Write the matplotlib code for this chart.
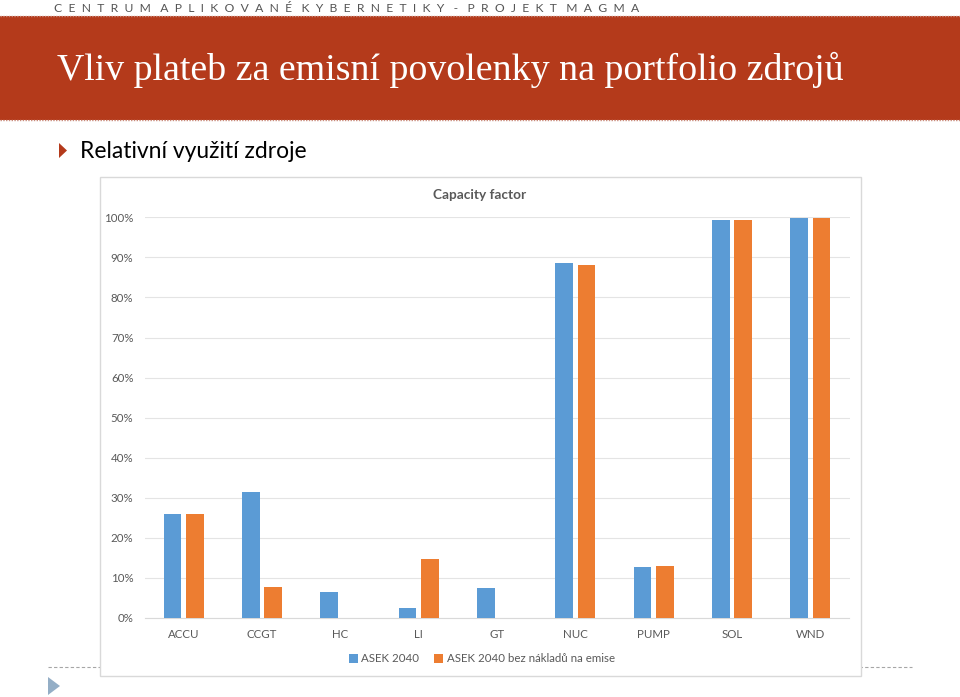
import numpy as np
import matplotlib
matplotlib.use("Agg")
from matplotlib import pyplot as plt
from matplotlib.patches import Rectangle, Polygon
from matplotlib.lines import Line2D
from matplotlib.ticker import PercentFormatter

# data
categories = ["ACCU", "CCGT", "HC", "LI", "GT", "NUC", "PUMP", "SOL", "WND"]
asek_2040 = [0.260, 0.315, 0.065, 0.025, 0.074, 0.886, 0.127, 0.993, 0.999]
asek_2040_bez = [0.260, 0.078, 0.0, 0.147, 0.0, 0.881, 0.129, 0.993, 0.999]
series_names = ["ASEK 2040", "ASEK 2040 bez nákladů na emise"]
yticks = np.arange(0, 1.01, 0.1)

W, H = 960, 697
BLUE = "#5B9BD5"
ORANGE = "#ED7D31"
RED = "#B43A1B"
GRAY = "#595959"


def fx(px):
    return px / W


def fy(py):
    return 1 - py / H


fig = plt.figure(figsize=(W / 100, H / 100), dpi=100)
fig.patch.set_facecolor("white")

# slide header
fig.text(fx(54), fy(8), "   ".join("  ".join(w) for w in "CENTRUM APLIKOVANÉ KYBERNETIKY - PROJEKT MAGMA".split()),
         fontsize=8.7, color="#555555", va="center", ha="left", family="Lato")
fig.add_artist(Rectangle((0, fy(120)), 1, fy(16) - fy(120), transform=fig.transFigure,
                         facecolor=RED, edgecolor="none", zorder=-5))
for yy in (16, 120):
    fig.add_artist(Line2D([0, 1], [fy(yy), fy(yy)], transform=fig.transFigure,
                          color="#c98a7a", lw=1, ls=(0, (1, 1)), zorder=-4))
fig.text(fx(57), fy(70), "Vliv plateb za emisní povolenky na portfolio zdrojů",
         fontsize=27.3, color="white", va="center", ha="left", family="Liberation Serif")

# bullet
fig.add_artist(Polygon([[fx(59), fy(143)], [fx(59), fy(158)], [fx(67), fy(150.5)]], closed=True,
                       transform=fig.transFigure, facecolor=RED, edgecolor="none"))
fig.text(fx(80), fy(151), "Relativní využití zdroje", fontsize=16.5, color="black",
         va="center", ha="left", family="Lato")

# dashed footer line and nav triangle
fig.add_artist(Line2D([fx(48), fx(912)], [fy(667), fy(667)], transform=fig.transFigure,
                      color="#a6a6a6", lw=0.8, ls=(0, (3, 2)), zorder=-4))
fig.add_artist(Polygon([[fx(48), fy(677)], [fx(48), fy(695)], [fx(60), fy(686)]], closed=True,
                       transform=fig.transFigure, facecolor="#94aec6", edgecolor="none"))

# chart frame
fig.add_artist(Rectangle((fx(100), fy(675.5)), fx(861) - fx(100), fy(177) - fy(675.5),
                         transform=fig.transFigure, facecolor="white", edgecolor="#D9D9D9",
                         lw=1, zorder=-3))

ax = fig.add_axes([fx(144.5), fy(618), fx(849.5) - fx(144.5), fy(217.3) - fy(618)])
ax.set_zorder(2)
x = np.arange(len(categories))
w = 0.225
b1 = ax.bar(x - 0.143, asek_2040, w, color=BLUE, zorder=3)
b2 = ax.bar(x + 0.143, asek_2040_bez, w, color=ORANGE, zorder=3)

ax.set_xlim(-0.5, len(categories) - 0.5)
ax.set_ylim(0, 1.0)
ax.set_yticks(yticks)
ax.yaxis.set_major_formatter(PercentFormatter(1.0, decimals=0))
ax.set_xticks(x)
ax.set_xticklabels(categories)
ax.yaxis.grid(True, color="#E4E4E4", lw=0.8)
ax.set_axisbelow(True)
for s in ["left", "right", "top"]:
    ax.spines[s].set_visible(False)
ax.spines["bottom"].set_color("#D9D9D9")
ax.spines["bottom"].set_linewidth(0.8)
ax.tick_params(axis="both", length=0, labelsize=8.3, labelcolor=GRAY)
ax.tick_params(axis="y", pad=8)
ax.tick_params(axis="x", pad=8)
for lab in ax.get_xticklabels() + ax.get_yticklabels():
    lab.set_family("Lato")
for r in list(b1) + list(b2):
    r.set_clip_on(False)

fig.text(fx(480), fy(195), "Capacity factor", fontsize=9.8, fontweight="bold",
         color=GRAY, ha="center", va="center", family="Lato")

leg = ax.legend([b1, b2], series_names, loc="center", bbox_to_anchor=(fx(482), fy(659)),
                bbox_transform=fig.transFigure, ncol=2, frameon=False, fontsize=8.3,
                handlelength=0.75, handleheight=0.75, handletextpad=0.3, columnspacing=1.3)
for t in leg.get_texts():
    t.set_color(GRAY)
    t.set_family("Lato")

fig.savefig("out.png", dpi=100)
